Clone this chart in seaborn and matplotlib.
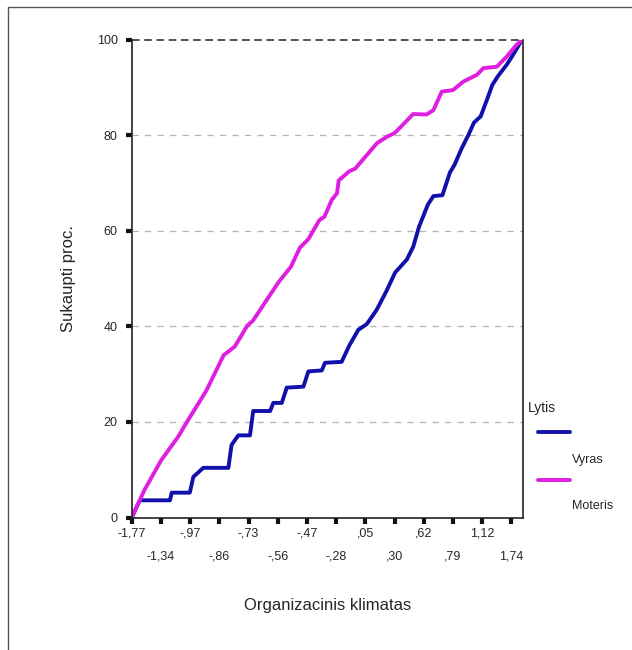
import matplotlib
matplotlib.use("Agg")
import matplotlib.pyplot as plt
from matplotlib.lines import Line2D
import seaborn as sns
import pandas as pd

# Category positions (rank of climate value) and cumulative percentages
vyras_x = [0, 2.8, 13.1, 13.7, 19.9, 21.1, 24.5, 33.1, 34.2, 36.5, 40.5, 41.6, 47.4, 48.5,
           51.4, 53.1, 58.8, 60.5, 65.1, 66.2, 71.9, 74.5, 77.6, 80.5, 83.9, 87.3, 90.2,
           94.2, 96.4, 98.4, 101.4, 103.3, 106.4, 109, 110.5, 113, 115.3, 117.2, 119.5,
           121.6, 123.5, 125.5, 128.4, 130.7, 133.6]
vyras_y = [0, 3.6, 3.6, 5.2, 5.2, 8.5, 10.4, 10.4, 15.2, 17.2, 17.2, 22.3, 22.3, 24.0,
           24.0, 27.2, 27.4, 30.6, 30.8, 32.4, 32.6, 36.0, 39.3, 40.5, 43.5, 47.5, 51.3,
           54.0, 56.7, 60.9, 65.5, 67.3, 67.5, 72.3, 73.8, 77.3, 80.1, 82.7, 84.0,
           87.4, 90.6, 92.5, 94.8, 97.0, 100]

moteris_x = [0, 4.4, 10.1, 15.9, 19.2, 25.5, 31.5, 35.3, 39.6, 41.5, 46.5, 50.3, 54.5,
             57.6, 60.5, 64.3, 66, 68.5, 70.3, 70.9, 74.5, 76.6, 80.5, 84, 87.3, 90, 92.3,
             96.4, 101, 103.3, 106.2, 110, 113.6, 118.2, 120.4, 125, 128.4, 131.8, 133.6]
moteris_y = [0, 5.8, 12.0, 16.9, 20.3, 26.5, 34.0, 35.8, 40.2, 41.2, 45.8, 49.3, 52.5,
             56.5, 58.3, 62.3, 63.0, 66.5, 67.9, 70.6, 72.5, 73.1, 75.9, 78.4, 79.7, 80.5, 81.9,
             84.5, 84.4, 85.3, 89.2, 89.5, 91.3, 92.7, 94.1, 94.4, 96.5, 99.0, 100]

tick_labels = ["-1,77", "-1,34", "-,97", "-,86", "-,73", "-,56", "-,47", "-,28",
               ",05", ",30", ",62", ",79", "1,12", "1,74"]
y_ticks = [0, 20, 40, 60, 80, 100]
series_names = ["Vyras", "Moteris"]
colors = {"Vyras": "#1010aa", "Moteris": "#e01ee0"}

df = pd.concat([
    pd.DataFrame({"x": vyras_x, "y": vyras_y, "Lytis": "Vyras"}),
    pd.DataFrame({"x": moteris_x, "y": moteris_y, "Lytis": "Moteris"}),
])

sns.set_style("white")
plt.rcParams["font.family"] = ["Liberation Sans", "DejaVu Sans"]

fig = plt.figure(figsize=(6.32, 6.5), dpi=100)
W, H = 632, 650
ax = fig.add_axes([131.7 / W, 1 - 517.5 / H, (523 - 131.7) / W, (517.5 - 40) / H])

sns.lineplot(data=df, x="x", y="y", hue="Lytis", palette=colors, sort=False,
             estimator=None, units="Lytis", linewidth=2.8, legend=False, ax=ax)

ax.set_xlim(0, 134)
ax.set_ylim(0, 100)

# gridlines
for v in y_ticks[1:-1]:
    ax.axhline(v, color="#b4b4b4", linestyle=(0, (5, 5)), linewidth=0.9, zorder=0)
ax.axhline(100, color="#222222", linestyle=(0, (5, 3)), linewidth=1.1, zorder=0, clip_on=False)

for s in ["left", "bottom", "right"]:
    ax.spines[s].set_visible(True)
    ax.spines[s].set_color("#222222")
    ax.spines[s].set_linewidth(1.2)
ax.spines["top"].set_visible(False)

ax.set_yticks(y_ticks)
ax.set_yticklabels([str(v) for v in y_ticks], fontsize=9)
major_pos = [i * 10 for i in range(0, 14, 2)]
minor_pos = [i * 10 for i in range(1, 14, 2)]
ax.set_xticks(major_pos)
ax.set_xticklabels(tick_labels[0::2], fontsize=9)
ax.set_xticks(minor_pos, minor=True)
ax.set_xticklabels(tick_labels[1::2], minor=True, fontsize=9)
ax.tick_params(axis="x", which="major", length=4, width=3, color="#111111", pad=3,
               direction="out", bottom=True)
ax.tick_params(axis="x", which="minor", length=4, width=3, color="#111111", pad=20,
               direction="out", bottom=True)
ax.tick_params(axis="y", length=4, width=3, color="#111111", pad=6, direction="out", left=True)

ax.set_xlabel("Organizacinis klimatas", fontsize=12, labelpad=25)
ax.set_ylabel("Sukaupti proc.", fontsize=12, labelpad=15)
ax.grid(False)

# legend
fig.text(528 / W, 1 - 408 / H, "Lytis", fontsize=10, va="center", ha="left")
for name, yl, yt in [("Vyras", 432, 460), ("Moteris", 480, 506)]:
    fig.add_artist(Line2D([538 / W, 570 / W], [1 - yl / H, 1 - yl / H],
                          color=colors[name], linewidth=2.8))
    fig.text(572 / W, 1 - yt / H, name, fontsize=9, va="center", ha="left")

# outer frame
fig.add_artist(Line2D([8 / W, 1.0], [1 - 7 / H, 1 - 7 / H], color="#555555", linewidth=1))
fig.add_artist(Line2D([8 / W, 8 / W], [1 - 7 / H, 0.0], color="#555555", linewidth=1))

fig.savefig("out.png", dpi=100)
